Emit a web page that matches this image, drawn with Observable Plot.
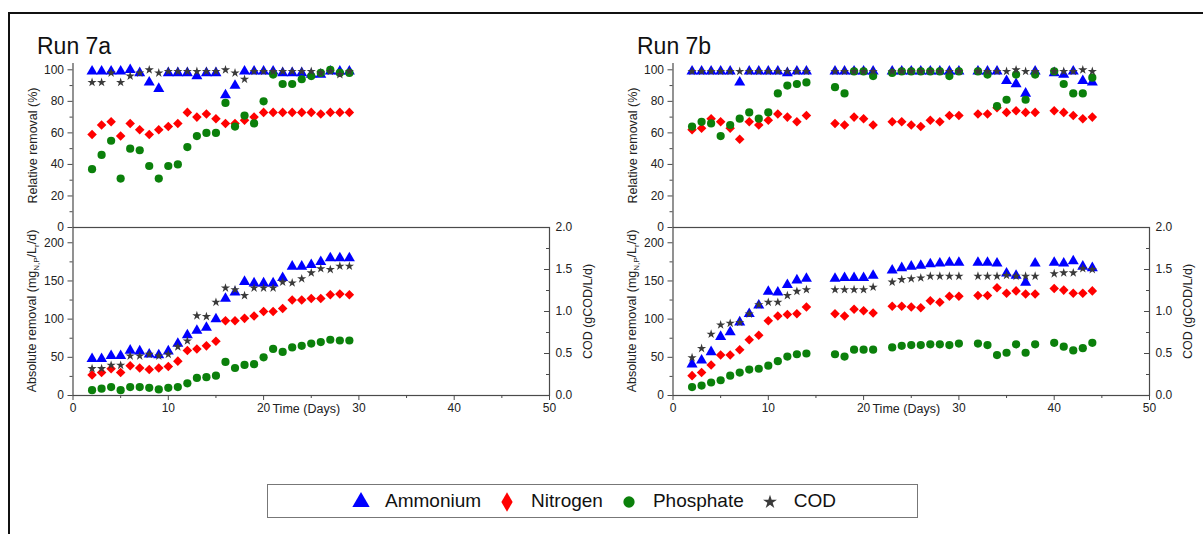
<!DOCTYPE html>
<html>
<head>
<meta charset="utf-8">
<script src="https://cdn.jsdelivr.net/npm/d3@7"></script>
<script src="https://cdn.jsdelivr.net/npm/@observablehq/plot@0.6"></script>
<style>
  body { margin: 0; background: #fff; font-family: "Liberation Sans", Arial, sans-serif; }
  #wrap { position: relative; width: 1203px; height: 534px; overflow: hidden; background: #fff; }
  .frame { position: absolute; left: 8px; top: 12px; width: 1200px; height: 530px; border-left: 2px solid #111; border-top: 2px solid #111; }
  .title { position: absolute; font-size: 23px; line-height: 23px; color: #111; white-space: nowrap; }
  .pane { position: absolute; }
  #legend { position: absolute; left: 267px; top: 484px; width: 651px; height: 34px; border: 1px solid #777; box-sizing: border-box;
            display: flex; align-items: center; justify-content: center; font-size: 19px; color: #111; }
  .item { display: flex; align-items: center; margin: 0 7px; }
  .item svg { margin-right: 12px; }
</style>
</head>
<body>
<div id="wrap">
  <div class="frame"></div>
  <div class="title" style="left:37px;top:35px">Run 7a</div>
  <div class="title" style="left:637px;top:35px">Run 7b</div>
  <div id="legend"></div>
</div>
<script>
// ---------------- data ----------------
const seriesNames = ["Ammonium", "Nitrogen", "Phosphate", "COD"];

// Run 7a (days 2..29)
const daysA = [2,3,4,5,6,7,8,9,10,11,12,13,14,15,16,17,18,19,20,21,22,23,24,25,26,27,28,29];
const ammARel = [99,99,99,99,100,98,92,88,98,98,98,96,98,98,84,90,99,99,99,99,98,98,98,97,97,99,99,99];
const nitARel = [59,65,67,58,66,62,59,62,64,66,73,70,72,69,66,66,68,70,73,73,73,73,73,73,72,73,73,73];
const phoARel = [37,46,55,31,50,49,39,31,39,40,51,58,60,60,79,64,71,66,80,97,91,91,94,96,98,100,98,98];
const codARel = [92,92,98,92,96,98,100,98,99,99,99,99,99,99,100,98,94,99,99,99,99,99,99,99,98,99,97,99];
const ammAAbs = [48,48,52,52,59,58,54,53,58,68,79,85,89,100,127,135,149,147,147,147,154,169,169,171,175,180,180,180];
const nitAAbs = [27,30,35,30,39,36,34,36,38,45,59,61,65,71,98,98,101,104,110,110,114,125,125,127,127,132,133,132];
const phoAAbs = [7,9,11,7,11,11,10,8,10,11,16,23,24,26,44,36,40,41,50,61,57,63,65,68,70,73,72,72];
const codAAbs = [0.32,0.32,0.36,0.36,0.47,0.47,0.49,0.47,0.49,0.58,0.65,0.95,0.94,1.11,1.28,1.26,1.19,1.28,1.28,1.28,1.35,1.34,1.39,1.46,1.51,1.50,1.54,1.54];

// Run 7b
const daysB = [2,3,4,5,6,7,8,9,10,11,12,13,14,17,18,19,20,21,23,24,25,26,27,28,29,30,32,33,34,35,36,37,38,40,41,42,43,44];
const ammBRel = [99,99,99,99,99,92,99,99,99,99,98,99,99, 99,99,99,99,99, 99,99,99,99,99,99,99,99, 99,99,99,93,91,85,99, 98,97,99,93,92];
const nitBRel = [62,63,69,67,63,56,67,65,68,72,70,67,71, 66,65,70,69,65, 67,67,65,64,68,67,71,71, 72,72,76,73,74,73,73, 74,73,71,69,70];
const phoBRel = [64,67,66,58,65,69,73,69,73,85,90,91,92, 89,85,99,99,96, 98,99,99,99,99,99,96,99, 99,97,77,81,97,81,97, 99,91,85,85,95];
const codBRel = [99,99,99,99,99,99,99,99,99,99,99,99,99, 99,99,99,99,99, 99,99,99,99,99,99,99,99, 99,99,99,99,100,99,99, 99,99,99,100,99];
const ammBAbs = [41,46,57,77,83,96,107,118,136,135,145,151,153, 153,154,154,154,157, 164,167,169,170,172,173,174,174, 174,174,173,160,157,148,173, 174,173,176,169,167];
const nitBAbs = [26,30,40,53,53,60,73,79,98,104,106,107,116, 107,104,113,111,108, 117,117,116,115,124,122,130,130, 131,131,141,134,137,133,133, 140,138,134,134,137];
const phoBAbs = [11,13,17,20,26,30,34,35,39,45,51,54,55, 54,51,60,60,60, 63,65,66,66,67,67,66,68, 68,66,53,56,67,56,67, 69,64,59,62,69];
const codBAbs = [0.45,0.56,0.73,0.84,0.86,0.87,0.97,1.08,1.11,1.11,1.19,1.24,1.26, 1.26,1.26,1.26,1.26,1.29, 1.35,1.38,1.39,1.40,1.42,1.42,1.42,1.42, 1.42,1.42,1.42,1.43,1.42,1.42,1.42, 1.45,1.46,1.46,1.51,1.50];

// ticks
const xMajor = [0,10,20,30,40,50];
const xMinor = [5,15,25,35,45];
const relMajor = [0,20,40,60,80,100];
const relMinor = [10,30,50,70,90];
const absMajor = [0,50,100,150,200];
const absMinor = [25,75,125,175];
const codMajor = [0,0.5,1.0,1.5,2.0];
const codMinor = [0.25,0.75,1.25,1.75];

// ---------------- styling ----------------
const BLUE = "#0000ff", RED = "#ff0000", GREEN = "#0b800b", GREY = "#3a3a3a", AX = "#4a4a4a";
const PW = 600, ML = 72.5, MR = 51;
const ABS_MAX = 220, COD_MAX = 2.0, K = ABS_MAX / COD_MAX;
const STYLE = {fontFamily: "Liberation Sans, Arial, sans-serif", fontSize: "12px", color: "#222", background: "transparent", overflow: "visible"};

const rows = (days, vals, f = 1) => days.map((d, i) => ({day: d, v: vals[i] * f}));

function dots(days, amm, nit, pho, cod, codFactor) {
  return [
    Plot.dot(rows(days, amm), {x: "day", y: "v", symbol: "triangle", fill: BLUE, stroke: "none", r: 4.1}),
    Plot.dot(rows(days, nit), {x: "day", y: "v", symbol: "diamond2", fill: RED, stroke: "none", r: 4.3}),
    Plot.dot(rows(days, pho), {x: "day", y: "v", symbol: "circle", fill: GREEN, stroke: "none", r: 4.1}),
    Plot.dot(rows(days, cod, codFactor), {x: "day", y: "v", symbol: "star", fill: GREY, stroke: "none", r: 2.9})
  ];
}

function topPlot(days, amm, nit, pho, cod) {
  return Plot.plot({
    width: PW, height: 240, marginLeft: ML, marginRight: MR, marginTop: 63, marginBottom: 13,
    x: {domain: [0, 50], axis: null},
    y: {domain: [0, 104], axis: null},
    style: STYLE,
    marks: [
      Plot.ruleX([0], {stroke: AX, strokeWidth: 1.2}),
      Plot.axisY(relMajor, {anchor: "left", tickSize: 5, tickPadding: 4, stroke: AX, label: null}),
      Plot.axisY(relMinor, {anchor: "left", tickSize: 3, tickFormat: () => "", stroke: AX, label: null}),
      Plot.text(["Relative removal (%)"], {text: d => d, frameAnchor: "left", textAnchor: "middle", lineAnchor: "middle", dx: -40.5, rotate: -90, fontSize: 12.5, fill: "#222"}),
      ...dots(days, amm, nit, pho, cod, 1)
    ]
  });
}

function bottomPlot(days, amm, nit, pho, cod) {
  const p = Plot.plot({
    width: PW, height: 215, marginLeft: ML, marginRight: MR, marginTop: 12, marginBottom: 35,
    x: {domain: [0, 50]},
    y: {domain: [0, ABS_MAX]},
    style: STYLE,
    marks: [
      Plot.frame({stroke: AX, strokeWidth: 1.2}),
      Plot.axisX(xMajor, {anchor: "bottom", tickSize: 5, tickPadding: 3, stroke: AX, label: null}),
      Plot.axisX(xMinor, {anchor: "bottom", tickSize: 3, tickFormat: () => "", stroke: AX, label: null}),
      Plot.axisY(absMajor, {anchor: "left", tickSize: 5, tickPadding: 4, stroke: AX, label: null}),
      Plot.axisY(absMinor, {anchor: "left", tickSize: 3, tickFormat: () => "", stroke: AX, label: null}),
      Plot.axisY(codMajor.map(v => v * K), {anchor: "right", tickSize: 0, tickPadding: 6, tickFormat: d => (d / K).toFixed(1), label: null}),
      Plot.tickY(codMajor.map(v => v * K), {y: d => d, insetLeft: (PW - ML - MR) - 5, stroke: AX}),
      Plot.tickY(codMinor.map(v => v * K), {y: d => d, insetLeft: (PW - ML - MR) - 3, stroke: AX}),
      Plot.text(["Time (Days)"], {text: d => d, frameAnchor: "bottom", textAnchor: "middle", lineAnchor: "middle", dy: 13, dx: -5, fontSize: 12.5, fill: "#222"}),
      Plot.text(["COD (gCOD/L/d)"], {text: d => d, frameAnchor: "right", textAnchor: "middle", lineAnchor: "middle", dx: 38, rotate: -90, fontSize: 12.5, fill: "#222"}),
      ...dots(days, amm, nit, pho, cod, K)
    ]
  });
  // y-axis title with subscripts
  const yr = p.scale("y").range;
  const cy = (yr[0] + yr[1]) / 2;
  const t = d3.select(p).append("text")
    .attr("transform", `translate(32,${cy}) rotate(-90)`)
    .attr("text-anchor", "middle").attr("dy", "0.35em")
    .attr("font-size", 12.5).attr("fill", "#222");
  t.append("tspan").text("Absolute removal (mg");
  t.append("tspan").attr("font-size", 8).attr("dy", 3).text("N,P");
  t.append("tspan").attr("dy", -3).text("/L");
  t.append("tspan").attr("font-size", 8).attr("dy", 3).text("r");
  t.append("tspan").attr("dy", -3).text("/d)");
  return p;
}

function place(el, left, top) {
  const d = document.createElement("div");
  d.className = "pane";
  d.style.left = left + "px";
  d.style.top = top + "px";
  d.appendChild(el);
  document.getElementById("wrap").appendChild(d);
}

place(topPlot(daysA, ammARel, nitARel, phoARel, codARel), 0, 0);
place(bottomPlot(daysA, ammAAbs, nitAAbs, phoAAbs, codAAbs), 0, 215);
place(topPlot(daysB, ammBRel, nitBRel, phoBRel, codBRel), 600, 0);
place(bottomPlot(daysB, ammBAbs, nitBAbs, phoBAbs, codBAbs), 600, 215);

// ---------------- legend ----------------
const legendSymbols = [
  {sym: d3.symbolTriangle, size: 130, color: BLUE},
  {sym: d3.symbolDiamond, size: 110, color: RED},
  {sym: d3.symbolCircle, size: 100, color: GREEN},
  {sym: d3.symbolStar, size: 60, color: GREY}
];
const legend = d3.select("#legend");
seriesNames.forEach((name, i) => {
  const it = legend.append("div").attr("class", "item");
  const s = it.append("svg").attr("width", 24).attr("height", 24);
  s.append("path").attr("transform", "translate(12,13)")
    .attr("d", d3.symbol(legendSymbols[i].sym, legendSymbols[i].size)())
    .attr("fill", legendSymbols[i].color);
  it.append("span").text(name);
});
</script>
</body>
</html>
